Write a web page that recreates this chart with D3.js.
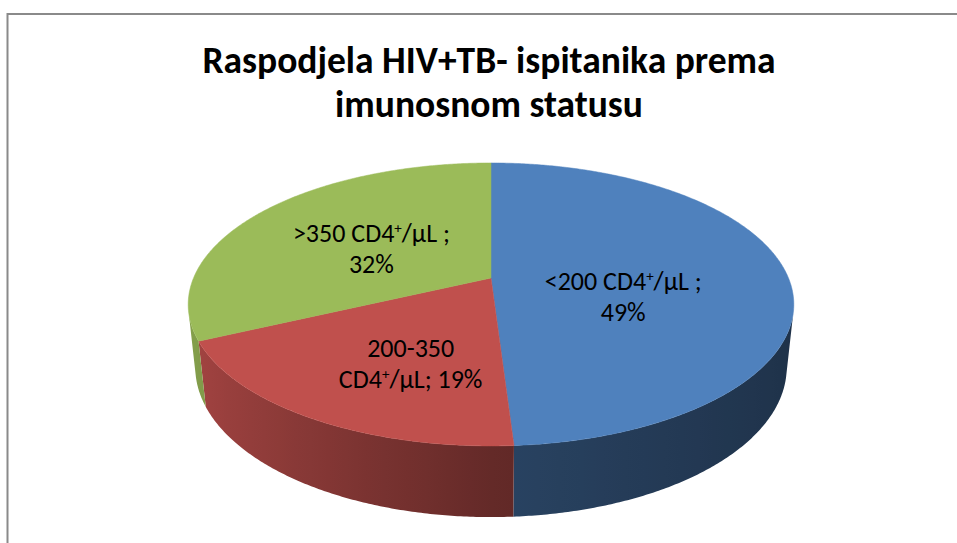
<!DOCTYPE html>
<html>
<head>
<meta charset="utf-8">
<script src="https://cdn.jsdelivr.net/npm/d3@7"></script>
<style>
  body { margin: 0; background: #fff; }
  text { font-family: Carlito, Calibri, Lato, 'Open Sans', sans-serif; fill: #000; }
</style>
</head>
<body>
<div id="chart"></div>
<script>
// data
const titleLines = ['Raspodjela HIV+TB- ispitanika prema', 'imunosnom statusu'];
const categories = ['<200 CD4+/µL', '200-350 CD4+/µL', '>350 CD4+/µL'];
const values = [49, 19, 32];
// label text as the chart wraps it, "^+" = superscript plus, {p} = percentage
const labelLines = [
    ['<200 CD4^+/µL ;', '{p}'],
    ['200-350', 'CD4^+/µL; {p}'],
    ['>350 CD4^+/µL ;', '{p}']
];
const colors = ['#4f81bd', '#c0504d', '#9bbb59'];

const width = 957, height = 543;

// 3d view of the pie (unit radius, top face at y = 0)
const view = {cx: 491, cy: 278, focal: 1413, dist: 4.75, sinE: 0.459, cosE: 0.888, depth: 0.24};
// nudge of each label from the projected middle of its slice
const labelNudge = [[-16, 21], [2, 22], [0, 5]];

const svg = d3.select('#chart').append('svg')
    .attr('width', width)
    .attr('height', height);
const defs = svg.append('defs');

// chart area border
svg.append('rect')
    .attr('x', 7.5).attr('y', 14)
    .attr('width', 970).attr('height', 600)
    .attr('fill', 'none')
    .attr('stroke', '#8a8a8a')
    .attr('stroke-width', 2);

// title
svg.selectAll('.title')
    .data(titleLines)
    .enter().append('text')
    .attr('class', 'title')
    .attr('x', 489)
    .attr('y', (d, i) => 73 + i * 44)
    .attr('text-anchor', 'middle')
    .attr('font-size', 37.5)
    .attr('font-weight', 'bold')
    .text(d => d);

function project(a, r, y) {
    const X = r * Math.sin(a), Z = -r * Math.cos(a);
    const d = view.dist - (Z * view.cosE + y * view.sinE);
    const v = Z * view.sinE - y * view.cosE;
    return [view.cx + view.focal * X / d, view.cy + view.focal * v / d];
}

const pie = d3.pie().sort(null).value(d => d)(values);
const line = d3.line();
const step = Math.PI / 360;

function arcPoints(a0, a1, r, y) {
    const pts = [];
    const n = Math.max(1, Math.ceil((a1 - a0) / step));
    for (let i = 0; i <= n; i++) pts.push(project(a0 + (a1 - a0) * i / n, r, y));
    return pts;
}

// light falls from the left: brightness of the wall by its normal's x
const light = d3.scaleLinear().domain([-1, 0, 1]).range([0.87, 0.52, 0.38]);

// outer walls: only the part facing the camera
const zMin = 1 / (view.dist * view.cosE);
const wallFrom = Math.acos(-zMin), wallTo = 2 * Math.PI - Math.acos(-zMin);
const walls = svg.append('g');
pie.forEach((p, i) => {
    const a0 = Math.max(p.startAngle, wallFrom), a1 = Math.min(p.endAngle, wallTo);
    if (a0 >= a1) return;
    const base = d3.rgb(colors[i]);
    const shade = a => {
        const f = light(Math.sin(a));
        return d3.rgb(base.r * f, base.g * f, base.b * f);
    };
    const xa = project(a0, 1, 0)[0], xb = project(a1, 1, 0)[0];
    const grad = defs.append('linearGradient')
        .attr('id', 'wall' + i)
        .attr('gradientUnits', 'userSpaceOnUse')
        .attr('x1', xa).attr('x2', xb).attr('y1', 0).attr('y2', 0);
    d3.range(0, 21).forEach(k => {
        const a = a0 + (a1 - a0) * k / 20;
        grad.append('stop')
            .attr('offset', (project(a, 1, 0)[0] - xa) / (xb - xa))
            .attr('stop-color', shade(a));
    });
    const pts = arcPoints(a0, a1, 1, 0).concat(arcPoints(a0, a1, 1, -view.depth).reverse());
    walls.append('path')
        .attr('d', line(pts) + 'Z')
        .attr('fill', 'url(#wall' + i + ')');
});

// top faces
svg.append('g').selectAll('path')
    .data(pie)
    .enter().append('path')
    .attr('d', p => line([project(0, 0, 0)].concat(arcPoints(p.startAngle, p.endAngle, 1, 0))) + 'Z')
    .attr('fill', (p, i) => colors[i])
    .attr('stroke', (p, i) => colors[i])
    .attr('stroke-width', 0.5);

// data labels
function addLine(g, str, x, y) {
    const t = g.append('text')
        .attr('x', x).attr('y', y)
        .attr('text-anchor', 'middle')
        .attr('font-size', 26);
    const parts = str.split('^+');
    parts.forEach((part, j) => {
        t.append('tspan').attr('dy', j > 0 ? 9 : 0).text(part);
        if (j < parts.length - 1) {
            t.append('tspan').attr('dy', -9).attr('font-size', 15).text('+');
        }
    });
}

const labels = svg.append('g');
pie.forEach((p, i) => {
    const c = project((p.startAngle + p.endAngle) / 2, 0.5, 0);
    const x = c[0] + labelNudge[i][0], y = c[1] + labelNudge[i][1];
    const lines = labelLines[i].map(s => s.replace('{p}', values[i] + '%'));
    lines.forEach((s, j) => addLine(labels, s, x, y - 15.5 + 9 + j * 31));
});
</script>
</body>
</html>
